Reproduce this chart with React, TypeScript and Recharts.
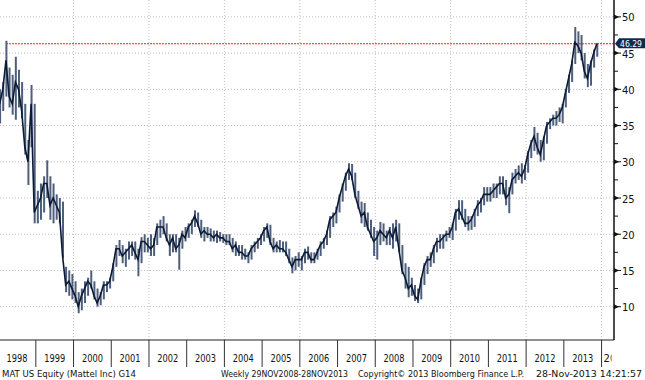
import { ComposedChart, Bar, Line, XAxis, YAxis, CartesianGrid, ReferenceLine } from 'recharts';

// monthly low / high / close, Jan 1998 .. Nov 2013
const START_YEAR = 1998;
const lows = [
  35.3, 37, 39, 37.5, 36.5, 35.8, 37.5, 36, 31, 26.8, 32, 21.5, // 1998
  21.5, 22, 23, 25, 22, 21.5, 22, 21.5, 16.7, 12, 11.5, 11, // 1999
  10.5, 9.1, 9.5, 10.5, 11.5, 12.5, 11, 10, 10.2, 11, 12, 12.5, // 2000
  13.5, 15.5, 17, 16, 15.5, 16.5, 17, 16.5, 14.2, 16, 17.5, 17.5, // 2001
  17, 17, 18.5, 19.5, 20, 19, 17, 17.5, 17.5, 15.1, 18, 19, // 2002
  19.5, 20, 21, 21, 19.5, 19, 19.5, 19, 19, 18.8, 19, 18.8, // 2003
  18.5, 18.5, 17.5, 17, 17, 16.5, 16.5, 16, 16.5, 17.5, 18, 18.5, // 2004
  19, 19.5, 18.5, 17.5, 17.5, 17.5, 17.5, 17, 16, 14.6, 15, 15.5, // 2005
  15, 16, 16.5, 16, 16, 16.5, 17, 18, 18.5, 19.5, 21, 21.5, // 2006
  23, 24.5, 26, 27.5, 27.5, 25, 23.5, 21.5, 21, 20.5, 19.5, 17, // 2007
  16.5, 18.5, 19, 18.5, 18.5, 18, 19, 17.5, 14.5, 12.5, 11.3, 11.5, // 2008
  10.8, 10.5, 11, 13, 14.5, 15.5, 16, 17.5, 18, 18, 19, 19.5, // 2009
  19.2, 20.5, 22, 22, 21, 20.5, 20.6, 21, 22.5, 23, 24, 24.5, // 2010
  24.5, 25, 25, 25.5, 25.5, 24, 22.9, 25.5, 27, 27.5, 27, 27.5, // 2011
  28.5, 30.5, 31.5, 31, 30, 30.2, 32.5, 34.5, 35, 35, 35.5, 35.3, // 2012
  37.5, 39.5, 41, 43.5, 45, 44, 41.5, 40.3, 40.5, 43, 44.5, // 2013
];
const highs = [
  40, 41, 46.7, 43, 42, 44.5, 42.7, 41, 38, 33, 40.6, 38, // 1998
  26, 27, 28, 30.2, 28, 27, 25.5, 25, 24.5, 15.5, 15, 14.5, // 1999
  13.5, 12, 12.5, 13.5, 14, 15, 13.5, 12.5, 12, 13.5, 13.5, 14, // 2000
  16, 18.5, 19.2, 18.5, 18, 19, 19, 19, 18, 19.6, 20, 19.5, // 2001
  20, 19.5, 21.5, 22, 22.5, 21.5, 20, 20, 20, 19.5, 20.5, 21, // 2002
  21.5, 22, 23.3, 23, 22, 21, 21, 20.8, 20.5, 20.5, 20.3, 20, // 2003
  20, 20, 19.5, 19, 18.5, 18.5, 18, 17.5, 18.5, 19, 19.5, 20, // 2004
  21, 21.5, 21.3, 19.5, 19, 19.2, 19, 19, 18, 16.8, 17, 17.5, // 2005
  17, 18, 18.3, 17.5, 17.5, 18, 19, 19.5, 20.5, 22.5, 23, 23.8, // 2006
  25.5, 27, 28.5, 29.8, 29.7, 28.5, 26, 24.5, 24.3, 23, 22, 21, // 2007
  20.5, 21.7, 21.5, 20.5, 21, 21.5, 22, 21.5, 18.5, 16, 15.5, 14, // 2008
  13, 12.5, 14, 16, 17, 17.5, 18.5, 19.5, 20, 20, 20.5, 21, // 2009
  21.5, 23.5, 24.7, 24.7, 23.5, 22.5, 22.5, 23.5, 24.7, 25, 26.5, 26.5, // 2010
  26.5, 27, 27, 28, 28, 27.5, 26.5, 28.5, 29, 29.5, 29.8, 29.5, // 2011
  31.5, 33, 34.8, 34, 33, 33.5, 35.5, 36, 36.5, 37, 37.5, 38, // 2012
  40, 42, 44, 48.6, 48, 47.5, 45, 43.5, 44, 45.5, 46.4, // 2013
];
const closes = [
  38, 40, 44, 39, 38, 41, 40, 37, 32, 30, 38, 23, // 1998
  24, 25, 27, 27, 24, 25, 24, 23, 17, 13, 13.5, 12.5, // 1999
  11.5, 10, 11.5, 12.5, 13.5, 13, 11.5, 10.5, 11.5, 13, 13, 13.5, // 2000
  15.5, 18, 18, 17, 17.5, 18, 18.5, 17.5, 16.5, 19, 19, 18.5, // 2001
  18, 18.5, 21, 21, 21, 19.5, 18.5, 19.5, 18, 18.5, 20, 19.5, // 2002
  21, 21.5, 22.5, 21.5, 20, 20.5, 20, 20, 19.5, 20, 19.5, 19.5, // 2003
  19, 19, 18, 18.5, 17.5, 17.5, 17, 17, 18, 18.5, 19, 19.5, // 2004
  20.5, 21, 19, 18, 18.5, 18, 18, 17.5, 16.5, 15.5, 16.5, 16.5, // 2005
  16.5, 17.5, 17.5, 16.5, 16.5, 17.5, 18.5, 19, 20, 22, 22.5, 23, // 2006
  25, 26.5, 28, 29, 28, 25.5, 24, 22.5, 23, 21, 20, 19, // 2007
  19.5, 20.5, 20, 19.5, 20.5, 19.5, 21, 18, 15, 14, 12.5, 13, // 2008
  11.5, 11, 13.5, 15.5, 16.5, 16.5, 18, 19, 19, 19.5, 20, 20, // 2009
  21, 23, 23.5, 22.5, 21.5, 21.5, 22, 23, 24, 24.5, 25.5, 25.5, // 2010
  25.5, 26, 26.5, 27, 27, 25, 25.5, 27.5, 28, 28.5, 28, 29, // 2011
  31, 32.5, 33.5, 32, 31, 33, 35, 35.5, 36, 36, 36.5, 37.5, // 2012
  39.5, 41.5, 43.5, 46.5, 46, 45, 42.5, 41.5, 43.5, 45, 46.29, // 2013
];

const LAST = 46.29;
const years = [1998, 1999, 2000, 2001, 2002, 2003, 2004, 2005, 2006, 2007, 2008, 2009, 2010, 2011, 2012, 2013, 2014];
const majorTicks = [10, 15, 20, 25, 30, 35, 40, 45, 50];
const minorTicks = [12.5, 17.5, 22.5, 27.5, 32.5, 37.5, 42.5, 47.5];
const gridYears = [2000, 2002, 2004, 2006, 2008, 2010, 2012, 2014];
const footer = [
  { text: 'MAT US Equity (Mattel Inc) G14', x: 2, w: 134 },
  { text: 'Weekly 29NOV2008-28NOV2013', x: 221, w: 127 },
  { text: 'Copyright\u00a9 2013 Bloomberg Finance L.P.', x: 358, w: 166 },
  { text: '28-Nov-2013 14:21:57', x: 536, w: 106 },
];

const X_DOMAIN: [number, number] = [1998.05, 2014.33];
const Y_DOMAIN: [number, number] = [5.4, 52.33];
const NAVY = '#0c1a34';
const FONT = 'Tahoma, "DejaVu Sans", sans-serif';

const data = closes.map((c, i) => ({
  t: START_YEAR + (i + 0.5) / 12,
  range: [lows[i], highs[i]],
  close: c,
}));

const xTicks: number[] = [];
years.forEach((y) => {
  if (y > years[0]) xTicks.push(y);
  if (y < 2014) xTicks.push(y + 0.5);
});

const XTick = ({ x, y, payload }: any) => {
  const v = payload.value;
  if (Number.isInteger(v)) {
    return (
      <g>
        <line x1={x} y1={y} x2={x} y2={y + 27} stroke="#333" strokeWidth={1} />
        {v === 2014 && (
          <>
            <clipPath id="lastYearClip">
              <rect x={x} y={y} width={10} height={30} />
            </clipPath>
            <text x={x + 2} y={y + 22} fontSize={10} fontFamily={FONT} fill="#111" clipPath="url(#lastYearClip)">
              {v}
            </text>
          </>
        )}
      </g>
    );
  }
  return (
    <text x={x} y={y + 22} textAnchor="middle" fontSize={10} fontFamily={FONT} fill="#111" textLength={21} lengthAdjust="spacingAndGlyphs">
      {Math.floor(v)}
    </text>
  );
};

const YTick = ({ x, y, payload }: any) => {
  const v = payload.value;
  if (v === LAST) {
    return (
      <g>
        <path d={`M${x + 1},${y} L${x + 5},${y - 5.5} L${x + 31},${y - 5.5} L${x + 31},${y + 4.5} L${x + 5},${y + 4.5} Z`} fill="#13294b" />
        <text x={x + 6} y={y + 3} fontSize={8} fontFamily={FONT} fill="#fff" textLength={22} lengthAdjust="spacingAndGlyphs">
          {v.toFixed(2)}
        </text>
      </g>
    );
  }
  if (v % 5 !== 0) {
    return <line x1={x} y1={y} x2={x + 4} y2={y} stroke="#111" />;
  }
  return (
    <g>
      <path d={`M${x},${y - 2.5} L${x + 5},${y} L${x},${y + 2.5} Z`} fill="#111" />
      <line x1={x} y1={y} x2={x + 7} y2={y} stroke="#111" />
      <text x={x + 8} y={y + 4.5} fontSize={10} fontFamily={FONT} fill="#111">{v}</text>
    </g>
  );
};

const App = () => {
  return (
    <div style={{ position: 'absolute', left: 0, top: 0, width: 645, height: 380, background: '#fff' }}>
      <ComposedChart width={645} height={368} data={data} margin={{ top: 0, right: 0, bottom: 0, left: 0 }}>
        <CartesianGrid
          horizontalValues={majorTicks}
          verticalValues={gridYears}
          stroke="#bdbdbd"
          strokeDasharray="1 2"
        />
        <XAxis
          dataKey="t"
          type="number"
          domain={X_DOMAIN}
          allowDataOverflow
          ticks={xTicks}
          interval={0}
          height={28}
          tickSize={0}
          tickMargin={0}
          tickLine={false}
          axisLine={{ stroke: '#222' }}
          tick={<XTick />}
        />
        <YAxis
          orientation="right"
          type="number"
          domain={Y_DOMAIN}
          allowDataOverflow
          ticks={[...majorTicks, ...minorTicks, LAST]}
          interval={0}
          width={31}
          tickSize={0}
          tickMargin={0}
          tickLine={false}
          axisLine={{ stroke: '#111', strokeWidth: 1.5 }}
          tick={<YTick />}
        />
        <ReferenceLine
          segment={[{ x: data[2].t, y: LAST }, { x: X_DOMAIN[1], y: LAST }]}
          stroke="#e02020"
          strokeDasharray="2 1"
          strokeWidth={1.2}
        />
        <Bar dataKey="range" barSize={2} fill="#4d5f7c" isAnimationActive={false} />
        <Line type="linear" dataKey="close" stroke={NAVY} strokeWidth={1.6} dot={false} isAnimationActive={false} />
      </ComposedChart>
      <svg width={645} height={12} style={{ position: 'absolute', left: 0, top: 368 }}>
        {footer.map((f) => (
          <text key={f.text} x={f.x} y={9} fontSize={9} fontFamily={FONT} fill="#111" textLength={f.w} lengthAdjust="spacingAndGlyphs">
            {f.text}
          </text>
        ))}
      </svg>
    </div>
  );
};

export default App;
